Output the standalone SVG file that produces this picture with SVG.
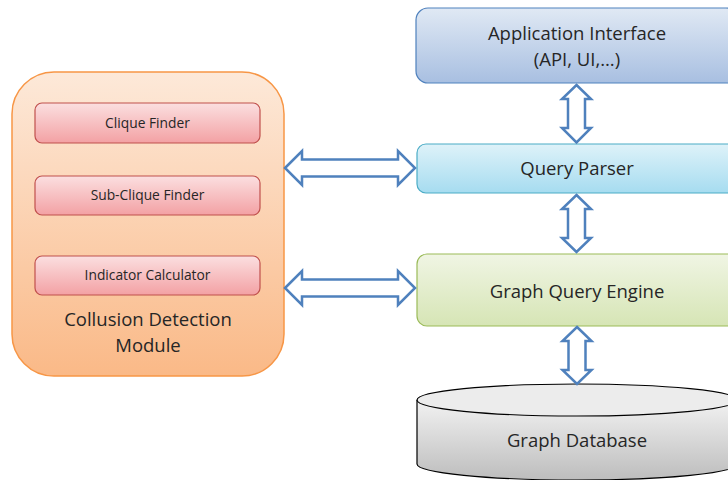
<svg xmlns="http://www.w3.org/2000/svg" width="728" height="480" viewBox="0 0 728 480">
<defs>
<linearGradient id="gOr" x1="0" y1="0" x2="0" y2="1"><stop offset="0" stop-color="#fde9d9"/><stop offset="1" stop-color="#fab987"/></linearGradient>
<linearGradient id="gRed" x1="0" y1="0" x2="0" y2="1"><stop offset="0" stop-color="#fbdfe0"/><stop offset="1" stop-color="#f3a1a4"/></linearGradient>
<linearGradient id="gBlue" x1="0" y1="0" x2="0" y2="1"><stop offset="0" stop-color="#e0e9f4"/><stop offset="1" stop-color="#a8bfe1"/></linearGradient>
<linearGradient id="gCyan" x1="0" y1="0" x2="0" y2="1"><stop offset="0" stop-color="#def2f9"/><stop offset="1" stop-color="#a6dcf0"/></linearGradient>
<linearGradient id="gGreen" x1="0" y1="0" x2="0" y2="1"><stop offset="0" stop-color="#f0f5e4"/><stop offset="1" stop-color="#d6e5b5"/></linearGradient>
<linearGradient id="gGray" x1="0" y1="0" x2="0" y2="1"><stop offset="0" stop-color="#f2f2f2"/><stop offset="1" stop-color="#bdbdbd"/></linearGradient>
</defs>
<style>
text{font-family:"Open Sans","Liberation Sans",sans-serif;fill:#262626;text-anchor:middle}
.big{font-size:18.5px}
.small{font-size:13.8px}
.arr{fill:#fff;stroke:#4f81bd;stroke-width:2.5;stroke-linejoin:miter}
.red{fill:url(#gRed);stroke:#c0504d;stroke-width:1.2}
</style>
<g id="collusion">
<rect x="12" y="72" width="272" height="304" rx="42" fill="url(#gOr)" stroke="#f79646" stroke-width="1.5"/>
<text class="big" x="148" y="326">Collusion Detection</text>
<text class="big" x="148" y="352">Module</text>
</g>
<g id="clique"><rect class="red" x="35" y="103" width="225" height="40" rx="7"/><text class="small" x="147.5" y="128">Clique Finder</text></g>
<g id="subclique"><rect class="red" x="35" y="176" width="225" height="39" rx="7"/><text class="small" x="147.5" y="200">Sub-Clique Finder</text></g>
<g id="indicator"><rect class="red" x="35" y="256" width="225" height="39" rx="7"/><text class="small" x="147.5" y="280">Indicator Calculator</text></g>
<g id="appif"><rect x="416" y="8" width="322" height="75" rx="12" fill="url(#gBlue)" stroke="#4f81bd" stroke-width="1.2"/><text class="big" x="577" y="40">Application Interface</text><text class="big" x="577" y="66">(API, UI,…)</text></g>
<g id="parser"><rect x="417" y="144" width="322" height="49" rx="9" fill="url(#gCyan)" stroke="#4bacc6" stroke-width="1.2"/><text class="big" x="577" y="175">Query Parser</text></g>
<g id="engine"><rect x="417" y="254" width="322" height="72" rx="10" fill="url(#gGreen)" stroke="#9bbb59" stroke-width="1.2"/><text class="big" x="577" y="298">Graph Query Engine</text></g>
<g id="database">
<path d="M417 400 L417 464 A160 16 0 0 0 737 464 L737 400" fill="url(#gGray)" stroke="#000" stroke-width="1.2"/>
<ellipse cx="577" cy="400" rx="160" ry="16" fill="#ececec" stroke="#000" stroke-width="1.2"/>
<text class="big" x="577" y="447">Graph Database</text>
</g>
<g id="connectors">
<path class="arr" d="M285 168 L302 151 L302 159.5 L398 159.5 L398 151 L415 168 L398 185 L398 176.5 L302 176.5 L302 185 Z"/>
<path class="arr" d="M285 288 L302 271 L302 279.5 L398 279.5 L398 271 L415 288 L398 305 L398 296.5 L302 296.5 L302 305 Z"/>
<path class="arr" d="M576.5 85 L591 99 L585 99 L585 128 L591 128 L576.5 142.5 L562 128 L568 128 L568 99 L562 99 Z"/>
<path class="arr" d="M576.5 195 L591 209 L585 209 L585 238 L591 238 L576.5 252 L562 238 L568 238 L568 209 L562 209 Z"/>
<path class="arr" d="M577 327 L591.5 341 L585.5 341 L585.5 370 L591.5 370 L577 384 L562.5 370 L568.5 370 L568.5 341 L562.5 341 Z"/>
</g>
</svg>
